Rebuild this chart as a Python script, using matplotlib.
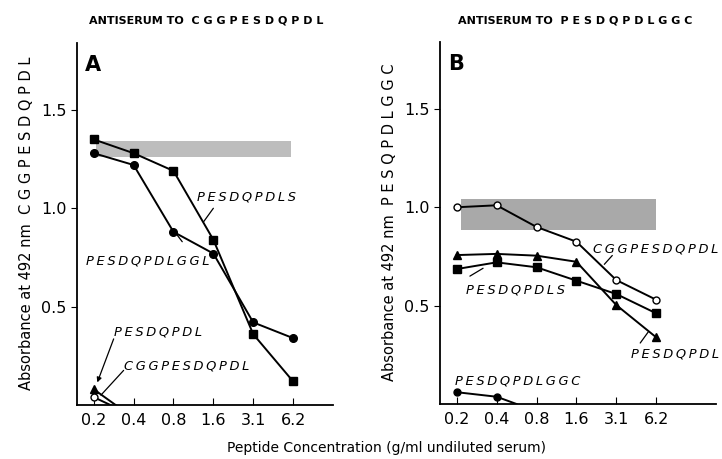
import numpy as np
import matplotlib
matplotlib.use("Agg")
import matplotlib.pyplot as plt

plt.rcParams['font.family'] = ['DejaVu Sans']

conc_labels = ['0.2', '0.4', '0.8', '1.6', '3.1', '6.2']
conc_pos = np.arange(len(conc_labels))

# panel A: antiserum to CGGPESDQPDL
a_pesdqpdls = [1.35, 1.28, 1.19, 0.84, 0.36, 0.12]
a_pesdqpdlggl = [1.28, 1.22, 0.88, 0.77, 0.42, 0.34]
a_pesdqpdl_x = [0, 0.55]
a_pesdqpdl_y = [0.08, 0.0]
a_cgg_x = [0, 0.42]
a_cgg_y = [0.04, 0.0]
a_band = (0.05, 4.95, 1.26, 1.34)

# panel B: antiserum to PESDQPDLGGC
b_cgg = [1.0, 1.01, 0.90, 0.825, 0.63, 0.53]
b_pesdqpdl = [0.757, 0.763, 0.754, 0.723, 0.503, 0.339]
b_pesdqpdls = [0.686, 0.72, 0.695, 0.627, 0.559, 0.461]
b_ggc_x = [0, 1, 1.5]
b_ggc_y = [0.06, 0.037, 0.0]
b_band = (0.1, 5.0, 0.885, 1.043)

THIN = '\u2009'


def spaced(s, sep=' '):
    return sep.join(s)


def style_axes(ax, xmax):
    ax.spines['top'].set_visible(False)
    ax.spines['right'].set_visible(False)
    ax.spines['left'].set_linewidth(1.3)
    ax.spines['bottom'].set_linewidth(1.3)
    ax.set_xticks(conc_pos)
    ax.set_xticklabels(conc_labels)
    ax.set_yticks([0.5, 1.0, 1.5])
    ax.set_yticklabels(['0.5', '1.0', '1.5'])
    ax.tick_params(axis='x', direction='in', length=5, labelsize=11.5, pad=6)
    ax.tick_params(axis='y', direction='out', length=4, labelsize=11.5)
    ax.set_ylim(0, 1.84)
    ax.set_xlim(-0.42, xmax)


def label(ax, txt, pos, start=None, end=None, arrow=False):
    ax.text(pos[0], pos[1], spaced(txt, THIN), fontsize=9.4, style='italic',
            ha='left', va='center')
    if start is not None:
        ax.annotate('', xy=end, xytext=start,
                    arrowprops=dict(arrowstyle='-|>' if arrow else '-', lw=0.9,
                                    color='black', shrinkA=0, shrinkB=0,
                                    mutation_scale=7))


fig = plt.figure(figsize=(7.22, 4.59), dpi=100)
axA = fig.add_axes([0.1066, 0.1176, 0.3546, 0.7887])
axB = fig.add_axes([0.6094, 0.1198, 0.3823, 0.7887])

lk = dict(color='black', lw=1.4, zorder=3)

# ---- A ----
axA.fill_between([a_band[0], a_band[1]], a_band[2], a_band[3], color='#bdbdbd', lw=0, zorder=1)
axA.plot(conc_pos, a_pesdqpdls, marker='s', ms=5.5, mfc='black', mec='black', **lk)
axA.plot(conc_pos, a_pesdqpdlggl, marker='o', ms=5.5, mfc='black', mec='black', **lk)
axA.plot(a_pesdqpdl_x, a_pesdqpdl_y, marker='^', ms=5.5, markevery=[0], mfc='black', mec='black', **lk)
axA.plot(a_cgg_x, a_cgg_y, marker='o', ms=5, markevery=[0], mfc='white', mec='black', **lk)
style_axes(axA, 6.0)
axA.text(-0.22, 1.73, 'A', fontsize=15, fontweight='bold', va='center')

label(axA, 'PESDQPDLS', (2.6, 1.055), (3.0, 1.0), (2.75, 0.93))
label(axA, 'PESDQPDLGGL', (-0.2, 0.73), (2.22, 0.83), (2.07, 0.87))
label(axA, 'PESDQPDL', (0.5, 0.37), (0.5, 0.336), (0.09, 0.115), arrow=True)
label(axA, 'CGGPESDQPDL', (0.75, 0.2), (0.75, 0.176), (0.18, 0.05))

# ---- B ----
axB.fill_between([b_band[0], b_band[1]], b_band[2], b_band[3], color='#a9a9a9', lw=0, zorder=1)
axB.plot(conc_pos, b_cgg, marker='o', ms=5, mfc='white', mec='black', **lk)
axB.plot(conc_pos, b_pesdqpdl, marker='^', ms=5.5, mfc='black', mec='black', **lk)
axB.plot(conc_pos, b_pesdqpdls, marker='s', ms=5.5, mfc='black', mec='black', **lk)
axB.plot(b_ggc_x, b_ggc_y, marker='o', ms=5, markevery=[0, 1], mfc='black', mec='black', **lk)
style_axes(axB, 6.5)
axB.text(-0.22, 1.73, 'B', fontsize=15, fontweight='bold', va='center')

label(axB, 'CGGPESDQPDL', (3.42, 0.79), (3.9, 0.755), (3.7, 0.71))
label(axB, 'PESDQPDLS', (0.23, 0.58), (0.33, 0.65), (0.66, 0.69))
label(axB, 'PESDQPDL', (4.36, 0.254), (4.6, 0.31), (4.8, 0.366))
label(axB, 'PESDQPDLGGC', (-0.05, 0.117))

# ---- figure texts ----
fig.text(0.285, 0.955, 'ANTISERUM TO  ' + spaced('CGGPESDQPDL'), fontsize=8,
         fontweight='bold', ha='center', va='center')
fig.text(0.797, 0.955, 'ANTISERUM TO  ' + spaced('PESDQPDLGGC'), fontsize=8,
         fontweight='bold', ha='center', va='center')
fig.text(0.037, 0.514, 'Absorbance at 492 nm  ' + spaced('CGGPESDQPDL'), rotation=90,
         fontsize=10.5, ha='center', va='center')
fig.text(0.540, 0.516, 'Absorbance at 492 nm  ' + spaced('PESQPDLGGC'), rotation=90,
         fontsize=10.5, ha='center', va='center')
fig.text(0.535, 0.024, 'Peptide Concentration (g/ml undiluted serum)', fontsize=10,
         ha='center', va='center')

fig.savefig('out.png', dpi=100)
